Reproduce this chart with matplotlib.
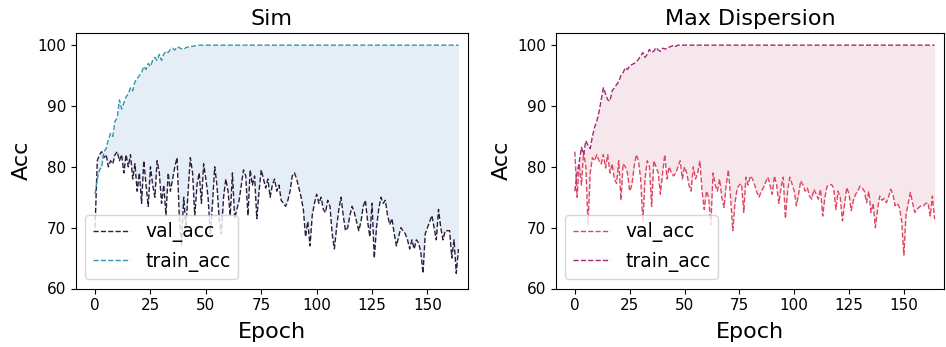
import matplotlib
matplotlib.use("Agg")
import matplotlib.pyplot as plt
import numpy as np

epochs = list(range(165))

sim_train = [75.5, 78, 79.5, 80, 82.5, 83, 84.5, 85.5, 85, 87.5,
             88, 91, 89.5, 90.5, 91.5, 92, 93, 92.5, 94, 94.5,
             95, 95.5, 96.5, 96, 97, 96.5, 97.5, 98, 97.5, 98.5,
             97.5, 98.5, 99, 98.8, 99.3, 99.5, 99.2, 99.7, 99.6, 99.4,
             99.3, 99.6, 99.7, 99.8, 99.8, 99.9, 99.9] + [100.0] * 118

sim_val = [70, 81, 82, 82.5, 81.5, 82, 80, 81, 80.5, 82,
           82.5, 81, 82, 79, 82, 80, 82, 78, 80.5, 76,
           79, 74, 81, 77, 73.5, 80, 77, 75, 81, 79,
           74, 77, 72, 79, 76, 78, 80, 81.5, 72, 67,
           75, 70, 76, 81.5, 79, 72, 77, 79, 74, 80.5,
           78, 75, 69, 74, 80, 77, 71.5, 69, 75, 78,
           76, 72, 79, 71.5, 73, 74.5, 77, 79.5, 78.5, 72,
           79.5, 77, 78.5, 71.5, 76, 79.5, 78, 76.5, 78, 75,
           77, 78, 76, 77, 74.5, 74, 73.5, 74.5, 76, 78.5,
           79, 78, 76.5, 75, 73, 68.5, 71, 67, 72, 74,
           75.5, 74, 75, 73, 72.5, 74.5, 73.5, 69, 66.5, 70,
           73, 75, 72, 69.5, 70, 72, 73.5, 72.5, 71, 69.5,
           71, 73.5, 74.5, 71, 68.5, 74, 65, 70, 73, 75,
           74, 74.5, 72, 70.5, 71.5, 69, 67, 68.5, 70, 69.5,
           69, 68, 66.5, 68, 66.5, 68, 67.5, 66, 62.5, 69,
           70, 71, 72, 70, 68, 73, 70, 68, 69.5, 69.5,
           69.5, 65, 68, 62.5, 66.5]

md_train = [76, 79, 80.8, 83.2, 82, 84.3, 83.5, 83, 85, 86.5,
            87.5, 89, 91, 93, 92, 91, 90.8, 92.5, 93, 93.5,
            94, 95, 95.5, 96.3, 96, 96.6, 96.8, 97, 97.2, 97.7,
            98.2, 98.8, 98, 98.5, 99.3, 98.8, 99, 99.6, 99.2, 99,
            99.5, 99.4, 99.4, 99.7, 99.8, 100, 99.8] + [100.0] * 118

md_val = [82.5, 75, 80.5, 77, 82.5, 80, 70.5, 79, 81.5, 81,
          82, 81, 80.5, 82, 79.8, 82, 79, 80.5, 78, 77.3,
          81, 74.5, 80.5, 80, 79, 76, 77, 80, 82, 81,
          78, 71, 78, 81, 80, 73.5, 81, 80, 79, 75.5,
          79, 82, 78, 80, 79, 78.5, 79, 80, 81, 78,
          80, 79, 77, 76, 80, 78, 79, 81, 76, 73,
          76, 75, 70.5, 79, 77, 76, 78, 75, 73.3, 77,
          79.5, 75, 69.5, 74, 76.5, 77, 77.2, 72.5, 78.3, 77,
          78.5, 78, 77, 75.8, 75, 76, 76.6, 77.5, 78.3, 77,
          75.5, 78.5, 77, 74, 76.5, 78.3, 71.5, 76, 78.3, 77.2,
          76, 73.6, 75.5, 77.7, 77, 76, 76.5, 75.2, 74.7, 76.3,
          75.5, 74.7, 76.3, 71.9, 75, 76.8, 77, 77.1, 76.5, 73,
          76, 75, 71.1, 74, 76.6, 75.5, 72.8, 74.5, 75.5, 76,
          76.8, 76.5, 76, 74.1, 76, 72.5, 74, 70, 73, 75.2,
          74.5, 74.8, 74.1, 75, 76.3, 75.5, 73.6, 74, 73.3, 71,
          65.5, 72.2, 74, 75.8, 74, 72.5, 73, 73.4, 73.6, 73.6,
          74, 74.1, 71.9, 75.2, 71.4]

titles = ["Sim", "Max Dispersion"]
x_ticks = [0, 25, 50, 75, 100, 125, 150]
y_ticks = [60, 70, 80, 90, 100]

fig = plt.figure(figsize=(9.46, 3.47), dpi=100)
W, H = 946, 347
pos = [(76, 33, 468, 288.5), (556, 33, 944, 288.5)]
panels = [
    (sim_val, sim_train, "#2c1e3d", "#3596aa", "#e5eef7"),
    (md_val, md_train, "#de4762", "#9e2c76", "#f6e7ed"),
]
for (l, t, r, b), title, (val, train, cv, ct, cf) in zip(pos, titles, panels):
    ax = fig.add_axes([l / W, 1 - b / H, (r - l) / W, (b - t) / H])
    ax.fill_between(epochs, val, train, color=cf, lw=0)
    ax.plot(epochs, val, ls="--", color=cv, lw=1.0, label="val_acc")
    ax.plot(epochs, train, ls="--", color=ct, lw=1.0, label="train_acc")
    ax.set_xlim(-8.6, 168.3)
    ax.set_ylim(60, 102)
    ax.set_xticks(x_ticks)
    ax.set_yticks(y_ticks)
    ax.tick_params(labelsize=11)
    ax.set_title(title, fontsize=16)
    ax.set_xlabel("Epoch", fontsize=16, labelpad=6)
    ax.set_ylabel("Acc", fontsize=16, labelpad=4)
    ax.legend(loc="lower left", fontsize=13.5)

fig.savefig("out.png", dpi=100)
